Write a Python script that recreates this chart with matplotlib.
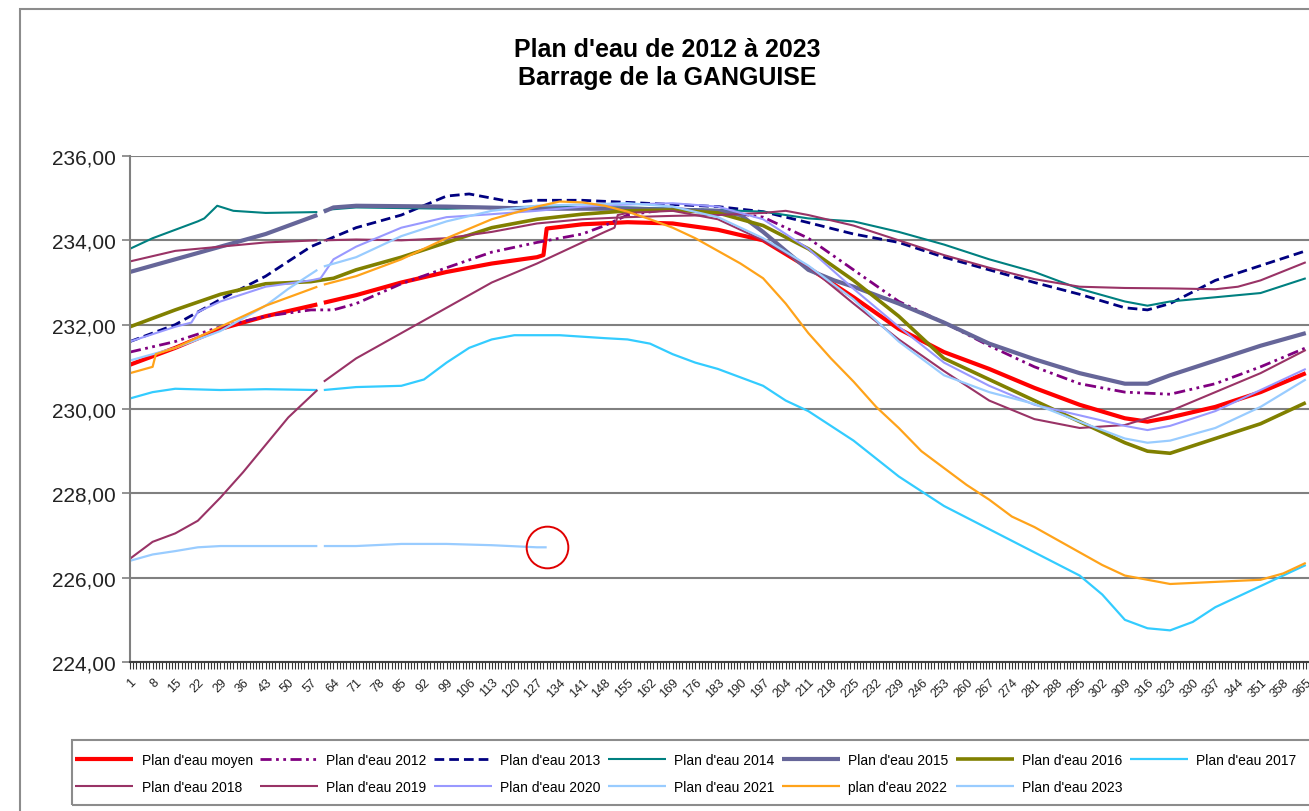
import numpy as np
import matplotlib
matplotlib.use("Agg")
import matplotlib.pyplot as plt
from matplotlib.patches import Rectangle
from matplotlib.ticker import FixedLocator, MultipleLocator, FuncFormatter

plt.rcParams['font.family'] = ['Liberation Sans', 'DejaVu Sans']

""" Water level (m NGF) read per day of year, None = missing day (29 Feb) """
moyen_days = [1, 15, 29, 43, 59, 60, 61, 71, 85, 99, 113, 127, 129, 130, 141, 155, 169, 183, 197,
              211, 225, 239, 253, 267, 281, 295, 309, 316, 323, 337, 351, 365]
moyen = [231.05, 231.45, 231.9, 232.2, 232.48, None, 232.52, 232.7, 233.0, 233.25, 233.45, 233.6,
         233.65, 234.28, 234.38, 234.43, 234.4, 234.25, 234.0, 233.35, 232.65, 231.9, 231.35,
         230.95, 230.5, 230.1, 229.78, 229.7, 229.8, 230.05, 230.4, 230.85]

y2012_days = [1, 15, 29, 43, 57, 64, 71, 85, 99, 113, 127, 141, 148, 155, 169, 183, 197, 211,
              225, 239, 253, 267, 281, 295, 309, 323, 337, 351, 365]
y2012 = [231.35, 231.6, 231.95, 232.2, 232.35, 232.35, 232.5, 232.97, 233.35, 233.72, 233.95,
         234.15, 234.35, 234.6, 234.75, 234.7, 234.55, 234.05, 233.3, 232.55, 232.05, 231.5,
         231.0, 230.6, 230.4, 230.35, 230.6, 231.0, 231.45]

y2013_days = [1, 8, 15, 29, 43, 57, 71, 85, 99, 106, 113, 120, 127, 141, 155, 169, 183, 197,
              211, 225, 239, 253, 267, 281, 295, 309, 316, 323, 337, 351, 365]
y2013 = [231.6, 231.8, 232.0, 232.6, 233.15, 233.85, 234.3, 234.6, 235.05, 235.1, 235.0, 234.9,
         234.95, 234.95, 234.9, 234.85, 234.8, 234.68, 234.42, 234.15, 233.95, 233.6, 233.3,
         233.0, 232.72, 232.4, 232.35, 232.5, 233.05, 233.4, 233.75]

y2014_days = [1, 8, 15, 22, 24, 28, 33, 43, 59, 60, 61, 71, 99, 127, 155, 183, 197, 211, 225,
              239, 253, 267, 281, 295, 309, 316, 323, 337, 351, 365]
y2014 = [233.8, 234.05, 234.25, 234.45, 234.52, 234.82, 234.7, 234.65, 234.67, None, 234.72,
         234.78, 234.75, 234.8, 234.78, 234.72, 234.68, 234.52, 234.45, 234.2, 233.9, 233.55,
         233.25, 232.85, 232.55, 232.45, 232.55, 232.65, 232.75, 233.1]

y2015_days = [1, 15, 29, 43, 59, 60, 61, 64, 71, 99, 127, 155, 183, 190, 197, 211, 219, 225,
              239, 253, 267, 281, 295, 309, 316, 323, 337, 351, 365]
y2015 = [233.25, 233.55, 233.85, 234.15, 234.6, None, 234.68, 234.78, 234.82, 234.8, 234.75,
         234.75, 234.7, 234.6, 234.2, 233.3, 233.05, 232.9, 232.5, 232.05, 231.55, 231.18,
         230.85, 230.6, 230.6, 230.8, 231.15, 231.5, 231.8]

y2016_days = [1, 15, 29, 43, 57, 64, 71, 85, 99, 113, 127, 141, 155, 169, 183, 197, 211, 225,
              239, 253, 267, 281, 295, 309, 316, 323, 337, 351, 365]
y2016 = [231.95, 232.35, 232.72, 232.97, 233.02, 233.1, 233.3, 233.6, 233.95, 234.3, 234.5,
         234.62, 234.7, 234.72, 234.65, 234.35, 233.8, 233.05, 232.2, 231.2, 230.7, 230.2,
         229.7, 229.2, 229.0, 228.95, 229.3, 229.65, 230.15]

y2017_days = [1, 8, 15, 29, 43, 59, 60, 61, 71, 85, 92, 99, 106, 113, 120, 134, 148, 155, 162,
              169, 176, 183, 190, 197, 204, 211, 218, 225, 239, 253, 267, 281, 295, 302, 309,
              316, 323, 330, 337, 351, 365]
y2017 = [230.25, 230.4, 230.48, 230.45, 230.47, 230.45, None, 230.45, 230.52, 230.55, 230.7,
         231.1, 231.45, 231.65, 231.75, 231.75, 231.68, 231.65, 231.55, 231.3, 231.1, 230.95,
         230.75, 230.55, 230.2, 229.95, 229.6, 229.25, 228.4, 227.7, 227.15, 226.6, 226.05,
         225.6, 225.0, 224.8, 224.75, 224.95, 225.3, 225.8, 226.3]

y2018_days = [1, 8, 15, 22, 29, 36, 43, 50, 59, 60, 61, 71, 85, 99, 113, 127, 141, 148, 151,
              152, 155, 169, 183, 197, 211, 225, 239, 253, 267, 281, 295, 309, 323, 337, 351, 365]
y2018 = [226.45, 226.85, 227.05, 227.35, 227.9, 228.5, 229.15, 229.8, 230.45, None, 230.65,
         231.2, 231.8, 232.4, 233.0, 233.45, 233.95, 234.2, 234.3, 234.6, 234.65, 234.7, 234.5,
         234.0, 233.38, 232.5, 231.65, 230.9, 230.2, 229.76, 229.55, 229.62, 229.95, 230.4,
         230.85, 231.4]

y2019_days = [1, 15, 29, 43, 59, 60, 61, 71, 85, 99, 113, 127, 141, 155, 169, 183, 197, 204,
              211, 225, 239, 253, 267, 281, 295, 309, 323, 337, 344, 351, 365]
y2019 = [233.5, 233.75, 233.85, 233.95, 234.0, None, 234.0, 234.02, 234.0, 234.05, 234.2, 234.4,
         234.5, 234.55, 234.58, 234.6, 234.65, 234.7, 234.6, 234.35, 234.0, 233.65, 233.35,
         233.08, 232.9, 232.87, 232.86, 232.84, 232.9, 233.05, 233.48]

y2020_days = [1, 15, 20, 22, 29, 43, 57, 60, 64, 71, 85, 99, 113, 127, 141, 155, 169, 183, 197,
              211, 225, 239, 253, 267, 281, 295, 309, 316, 323, 337, 351, 365]
y2020 = [231.6, 231.95, 232.05, 232.3, 232.55, 232.9, 233.05, 233.1, 233.55, 233.85, 234.3,
         234.55, 234.62, 234.7, 234.8, 234.85, 234.88, 234.8, 234.5, 233.8, 232.85, 231.95,
         231.1, 230.55, 230.1, 229.85, 229.6, 229.5, 229.6, 229.95, 230.45, 230.95]

y2021_days = [1, 15, 29, 36, 43, 50, 59, 60, 61, 71, 85, 99, 113, 127, 141, 155, 169, 183, 197,
              211, 225, 239, 253, 267, 281, 295, 309, 316, 323, 337, 351, 365]
y2021 = [231.15, 231.45, 231.85, 232.15, 232.45, 232.85, 233.3, None, 233.38, 233.6, 234.1,
         234.45, 234.7, 234.82, 234.85, 234.88, 234.8, 234.55, 234.05, 233.4, 232.6, 231.6,
         230.8, 230.4, 230.12, 229.7, 229.3, 229.2, 229.25, 229.55, 230.05, 230.7]

y2022_days = [1, 8, 9, 15, 29, 43, 59, 60, 61, 71, 85, 99, 113, 127, 134, 141, 148, 155, 162,
              169, 176, 183, 190, 197, 204, 211, 218, 225, 232, 239, 246, 253, 260, 267, 274,
              281, 288, 295, 302, 309, 316, 323, 337, 351, 358, 365]
y2022 = [230.85, 231.0, 231.3, 231.45, 231.95, 232.45, 232.9, None, 232.95, 233.15, 233.55,
         234.05, 234.5, 234.8, 234.92, 234.9, 234.82, 234.68, 234.5, 234.3, 234.05, 233.75,
         233.45, 233.1, 232.5, 231.8, 231.2, 230.65, 230.05, 229.55, 229.0, 228.6, 228.2,
         227.85, 227.45, 227.2, 226.9, 226.6, 226.3, 226.05, 225.95, 225.85, 225.9, 225.95,
         226.1, 226.35]

y2023_days = [1, 8, 15, 22, 29, 43, 59, 60, 61, 71, 85, 99, 113, 127, 130]
y2023 = [226.4, 226.55, 226.63, 226.72, 226.75, 226.75, 226.75, None, 226.75, 226.75, 226.8,
         226.8, 226.77, 226.72, 226.72]

x_tick_days = list(range(1, 366, 7))
y_ticks = [224, 226, 228, 230, 232, 234, 236]

""" Label, data and line style of every series (drawing order = Excel order) """
series = [
    ("Plan d'eau moyen", moyen_days, moyen, dict(color="#FF0000", lw=3.0)),
    ("Plan d'eau 2012", y2012_days, y2012, dict(color="#800080", lw=2.0, dashes=(4, 1.6, 1, 1.6, 1, 1.6))),
    ("Plan d'eau 2013", y2013_days, y2013, dict(color="#000080", lw=2.0, dashes=(3.5, 1.8))),
    ("Plan d'eau 2014", y2014_days, y2014, dict(color="#008080", lw=1.5)),
    ("Plan d'eau 2015", y2015_days, y2015, dict(color="#666699", lw=3.0)),
    ("Plan d'eau 2016", y2016_days, y2016, dict(color="#808000", lw=2.6)),
    ("Plan d'eau 2017", y2017_days, y2017, dict(color="#33CCFF", lw=1.6)),
    ("Plan d'eau 2018", y2018_days, y2018, dict(color="#993366", lw=1.5)),
    ("Plan d'eau 2019", y2019_days, y2019, dict(color="#993366", lw=1.5)),
    ("Plan d'eau 2020", y2020_days, y2020, dict(color="#9999FF", lw=1.5)),
    ("Plan d'eau 2021", y2021_days, y2021, dict(color="#99CCFF", lw=1.6)),
    ("plan d'eau 2022", y2022_days, y2022, dict(color="#FFA31A", lw=1.6)),
    ("Plan d'eau 2023", y2023_days, y2023, dict(color="#99CCFF", lw=1.6)),
]

fig = plt.figure(figsize=(13.09, 8.12), dpi=100)
ax = fig.add_axes([130 / 1309, 1 - 663 / 812, 1 - 130 / 1309, (663 - 157) / 812])

lines = {}
for label, d, v, style in series:
    (ln,) = ax.plot(d, np.array(v, dtype=float), label=label, solid_capstyle="butt", **style)
    lines[label] = ln

""" Red circle around the last 2023 reading """
ax.plot(y2023_days[-1], y2023[-1], "o", ms=30, mfc="none", mec="#E00000", mew=1.4, clip_on=False)

""" Axes, ticks and grid """
ax.set_xlim(1, 366)
ax.set_ylim(224, 236)
ax.yaxis.set_major_locator(FixedLocator(y_ticks))
ax.yaxis.set_major_formatter(FuncFormatter(lambda v, p: f"{v:.2f}".replace(".", ",")))
ax.xaxis.set_major_locator(FixedLocator(x_tick_days))
ax.xaxis.set_minor_locator(MultipleLocator(1))
ax.set_xticklabels([str(t) for t in x_tick_days], rotation=45, ha="right", va="top",
                   rotation_mode="anchor", fontsize=9, color="#222222")
ax.tick_params(axis="y", labelsize=15, length=6, width=1.2, color="#808080", pad=4,
               labelcolor="#222222")
ax.tick_params(axis="x", which="both", length=5, width=0.8, color="#333333", pad=5)
ax.grid(axis="y", color="#808080", linewidth=1.5)
ax.set_axisbelow(True)
for side in ["top", "right"]:
    ax.spines[side].set_visible(False)
ax.spines["left"].set_color("#808080")
ax.spines["left"].set_linewidth(1.5)
ax.spines["bottom"].set_color("#404040")
ax.spines["bottom"].set_linewidth(1.5)

""" Title """
fig.text(0.51, 1 - 64 / 812, "Plan d'eau de 2012 à 2023\nBarrage de la GANGUISE",
         ha="center", va="center", fontsize=18, fontweight="bold", linespacing=1.2)

""" Outer chart border and legend box """
fig.patches.append(Rectangle((20 / 1309, -0.1), 1.2, 1.1 - 10 / 812, transform=fig.transFigure,
                             fill=False, edgecolor="#8C8C8C", linewidth=1.5))
fig.patches.append(Rectangle((72 / 1309, 1 - 806 / 812), 1.2, 65 / 812, transform=fig.transFigure,
                             fill=False, edgecolor="#8C8C8C", linewidth=1.5))

""" Legend, row by row like Excel """
order = ["Plan d'eau moyen", "Plan d'eau 2018", "Plan d'eau 2012", "Plan d'eau 2019",
         "Plan d'eau 2013", "Plan d'eau 2020", "Plan d'eau 2014", "Plan d'eau 2021",
         "Plan d'eau 2015", "plan d'eau 2022", "Plan d'eau 2016", "Plan d'eau 2023",
         "Plan d'eau 2017"]
fig.legend([lines[k] for k in order], order, ncol=7, loc="upper left",
           bbox_to_anchor=(75 / 1309, 1 - 754 / 812), frameon=False, fontsize=10,
           handlelength=4.2, handletextpad=0.6, columnspacing=0.5, labelspacing=0.95,
           borderpad=0, borderaxespad=0)

fig.savefig("out.png", dpi=100)
